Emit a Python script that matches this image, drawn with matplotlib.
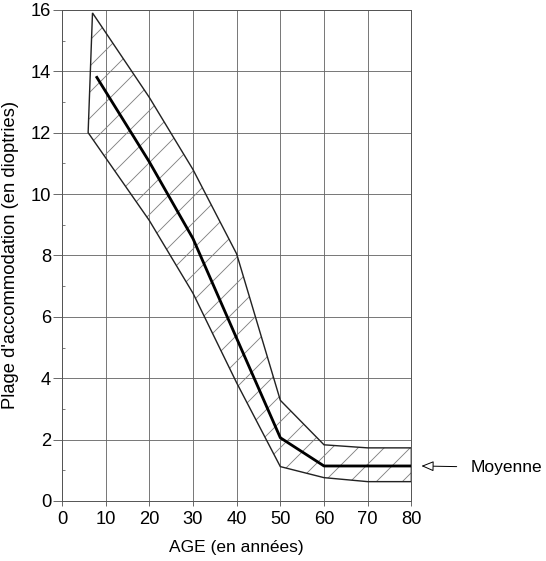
import numpy as np
import matplotlib
matplotlib.use("Agg")
import matplotlib.pyplot as plt

# values (age in years, accommodation in dioptres)
upper_age = [7, 20, 30, 40, 50, 60, 70, 80]
upper_val = [15.9, 13.15, 10.8, 8.05, 3.28, 1.83, 1.73, 1.73]
lower_age = [6, 20, 30, 40, 50, 60, 70, 80]
lower_val = [12.0, 9.14, 6.77, 3.85, 1.12, 0.76, 0.63, 0.63]
mean_age = [8, 20, 30, 40, 50, 60, 70, 80]
mean_val = [13.8, 11.05, 8.55, 5.3, 2.06, 1.14, 1.14, 1.14]

x_ticks = [0, 10, 20, 30, 40, 50, 60, 70, 80]
y_ticks = [0, 2, 4, 6, 8, 10, 12, 14, 16]

plt.rcParams['font.family'] = ['Liberation Sans', 'DejaVu Sans']
plt.rcParams['hatch.linewidth'] = 0.8

fig = plt.figure(figsize=(546 / 78, 561 / 78), dpi=78)
ax = fig.add_axes([0.1134, 0.107, 0.640, 0.8754])

# hatched band
poly_x = np.concatenate([upper_age, lower_age[::-1]])
poly_y = np.concatenate([upper_val, lower_val[::-1]])
ax.fill(poly_x, poly_y, facecolor='none', edgecolor='#808080', hatch='/', linewidth=0, zorder=2)
ax.fill(poly_x, poly_y, facecolor='none', edgecolor='#222222', linewidth=1.3, zorder=3)

# mean curve
ax.plot(mean_age, mean_val, color='black', linewidth=2.6, zorder=4)

ax.set_xlim(0, 80)
ax.set_ylim(0, 16)
ax.set_xticks(x_ticks)
ax.set_yticks(y_ticks)
ax.set_yticks(np.arange(1, 16, 2), minor=True)
ax.grid(True, which='major', color='#666666', linewidth=0.8, zorder=0)
for s in ax.spines.values():
    s.set_color('#555555')
    s.set_linewidth(0.9)
ax.tick_params(axis='y', which='major', direction='out', length=8, width=0.8,
               color='#555555', labelsize=17, pad=2)
ax.tick_params(axis='x', which='major', direction='out', length=5, width=0.8,
               color='#555555', labelsize=17, pad=4)
ax.tick_params(axis='y', which='minor', direction='in', length=3, width=0.7, color='#555555')

ax.set_xlabel('AGE (en années)', fontsize=16, labelpad=11)
ax.set_ylabel("Plage d'accommodation (en dioptries)", fontsize=17, labelpad=11)

ax.annotate('Moyenne', xy=(82.3, mean_val[-1]), xytext=(93.6, mean_val[-1] - 0.05),
            fontsize=16, va='center', ha='left', annotation_clip=False,
            arrowprops=dict(arrowstyle='-|>,head_length=0.6,head_width=0.25',
                            facecolor='white', edgecolor='black', linewidth=0.9,
                            shrinkA=11, shrinkB=0))

fig.savefig('out.png', dpi=78)
